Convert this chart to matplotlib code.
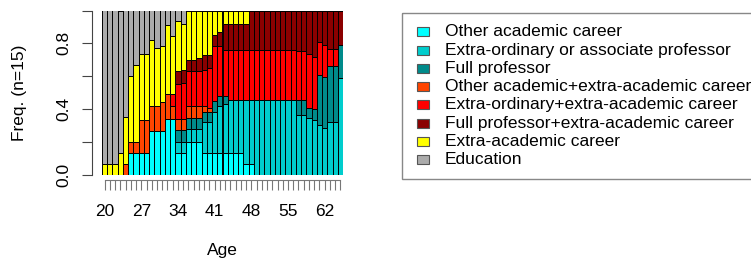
import numpy as np
import matplotlib
matplotlib.use("Agg")
import matplotlib.pyplot as plt
from matplotlib.patches import Rectangle

plt.rcParams['font.family'] = ['Liberation Sans', 'DejaVu Sans']

ages = list(range(20, 66))
tick_ages = [20, 27, 34, 41, 48, 55, 62]

# number of people (out of 15) in each state, per age
other_acad = [0, 0, 0, 0, 0, 2, 2, 2, 2, 4, 4, 4, 5.1, 5.1, 2, 2, 3, 3, 3, 2,
              2, 2, 2, 2, 2, 2, 2, 1, 1, 0, 0, 0, 0, 0, 0, 0, 0, 0, 0, 0,
              0, 0, 0, 0, 0, 0]
extra_ord = [0, 0, 0, 0, 0, 0, 0, 0, 0, 0, 0, 0, 0, 0, 1, 1, 1.2, 1.2, 1.2, 2.8,
             2.8, 3.7, 4.3, 4.5, 4.8, 4.8, 4.8, 5.8, 5.8, 6.8, 6.8, 6.8, 6.8, 6.8, 6.8, 6.8,
             6.8, 5.5, 5.5, 5.2, 5.0, 4.6, 4.3, 4.8, 4.8, 8.85]
full_prof = [0, 0, 0, 0, 0, 0, 0, 0, 0, 0, 0, 0, 0, 0, 1.1, 1.1, 1, 1, 1, 0.9,
             0.9, 1.05, 0.9, 0.7, 0, 0, 0, 0, 0, 0, 0, 0, 0, 0, 0, 0,
             0, 1.3, 1.3, 0.9, 1.0, 4.5, 4.6, 5.1, 5.1, 3]
other_x = [0, 0, 0, 0, 1, 1, 1, 3, 3, 2.3, 2.3, 2.7, 2.3, 1.2, 1, 1, 1.1, 1.1, 1.1, 0.6,
           0.4, 0, 0, 0, 0, 0, 0, 0, 0, 0, 0, 0, 0, 0, 0, 0,
           0, 0, 0, 0, 0, 0, 0, 0, 0, 0]
extra_ord_x = [0, 0, 0, 0, 0, 0, 0, 0, 0, 0, 0, 0, 0, 1.1, 3.2, 3.3, 3.2, 3.2, 3.2, 3.3,
               3.7, 5.05, 4.6, 4.2, 4.6, 4.6, 4.6, 4.6, 4.6, 4.6, 4.6, 4.6, 4.6, 4.6, 4.6, 4.6,
               4.6, 4.5, 4.5, 4.9, 4.8, 3, 2.95, 1.6, 1.6, 0]
full_prof_x = [0, 0, 0, 0, 0, 0, 0, 0, 0, 0, 0, 0, 0, 0, 1.2, 1.2, 1, 1, 1.2, 1.3,
               1.1, 1, 1.2, 2.4, 2.4, 2.4, 2.4, 2.4, 3.6, 3.6, 3.6, 3.6, 3.6, 3.6, 3.6, 3.6,
               3.6, 3.7, 3.7, 4, 4.2, 2.9, 3.15, 3.5, 3.5, 3.15]
extra_acad = [1, 1, 1, 2, 4.3, 6, 7, 6, 6, 6, 5.3, 5.1, 6.3, 5.3, 4.5, 4.2, 4.5, 4.5, 4.3, 4.1,
              4.1, 2.2, 2, 1.2, 1.2, 1.2, 1.2, 1.2, 0, 0, 0, 0, 0, 0, 0, 0,
              0, 0, 0, 0, 0, 0, 0, 0, 0, 0]
education = [14, 14, 14, 13, 9.7, 6, 5, 4, 4, 2.7, 3.4, 3.2, 1.3, 2.3, 1, 1.2, 0, 0, 0, 0,
             0, 0, 0, 0, 0, 0, 0, 0, 0, 0, 0, 0, 0, 0, 0, 0,
             0, 0, 0, 0, 0, 0, 0, 0, 0, 0]

labels = ["Other academic career", "Extra-ordinary or associate professor",
          "Full professor", "Other academic+extra-academic career",
          "Extra-ordinary+extra-academic career", "Full professor+extra-academic career",
          "Extra-academic career", "Education"]
colors = ["#00FFFF", "#00CDCD", "#008B8B", "#FF4500", "#FF0000", "#8B0000",
          "#FFFF00", "#ABABAB"]

series = np.array([other_acad, extra_ord, full_prof, other_x, extra_ord_x,
                   full_prof_x, extra_acad, education], dtype=float)
props = series / series.sum(axis=0)

fig = plt.figure(figsize=(7.51, 2.62), dpi=100)
ax = fig.add_axes([102 / 751, 1 - 175 / 262, 241 / 751, 164.5 / 262])

x = np.arange(len(ages))
bottom = np.zeros(len(ages))
for vals, col in zip(props, colors):
    ax.bar(x, vals, bottom=bottom, width=1, color=col, edgecolor="black", linewidth=0.7)
    bottom += vals

ax.set_xlim(-0.5, len(ages) - 0.5)
ax.set_ylim(0, 1)
for s in ["top", "right"]:
    ax.spines[s].set_visible(False)
ax.spines["left"].set_position(("outward", 7))
ax.spines["left"].set_bounds(0, 1)
ax.spines["bottom"].set_position(("outward", 3.5))
ax.spines["bottom"].set_bounds(0, len(ages) - 1)
ax.spines["left"].set_color("#444444")
ax.spines["bottom"].set_color("#777777")

ax.set_xticks(x)
ax.set_xticklabels([str(a) if a in tick_ages else "" for a in ages], fontsize=12.5)
ax.tick_params(axis="x", length=7.5, width=0.8, color="#777777", pad=10)
ax.set_yticks([0, 0.2, 0.4, 0.6, 0.8, 1.0])
ax.set_yticklabels(["0.0", "", "0.4", "", "0.8", ""], rotation=90, va="center",
                   fontsize=12.5)
ax.tick_params(axis="y", length=7, width=0.8, color="#444444", pad=8)

fig.text(20 / 751, 1 - 93 / 262, "Freq. (n=15)", rotation=90, ha="center",
         va="center", fontsize=12.5)
fig.text(222 / 751, 1 - 251 / 262, "Age", ha="center", va="center", fontsize=12.5)

# legend box drawn in pixel coordinates
lax = fig.add_axes([0, 0, 1, 1])
lax.set_xlim(0, 751)
lax.set_ylim(262, 0)
lax.axis("off")
lax.add_patch(Rectangle((401.5, 12.5), 400, 166, fill=False, edgecolor="#888888",
                        linewidth=1))
for i, (lab, col) in enumerate(zip(labels, colors)):
    y = 31.7 + 18.3 * i
    lax.add_patch(Rectangle((416.5, y - 4.5), 12, 9, facecolor=col,
                            edgecolor="#555555", linewidth=0.8))
    lax.text(445, y, lab, ha="left", va="center", fontsize=12.5)

fig.savefig("out.png", dpi=100)
